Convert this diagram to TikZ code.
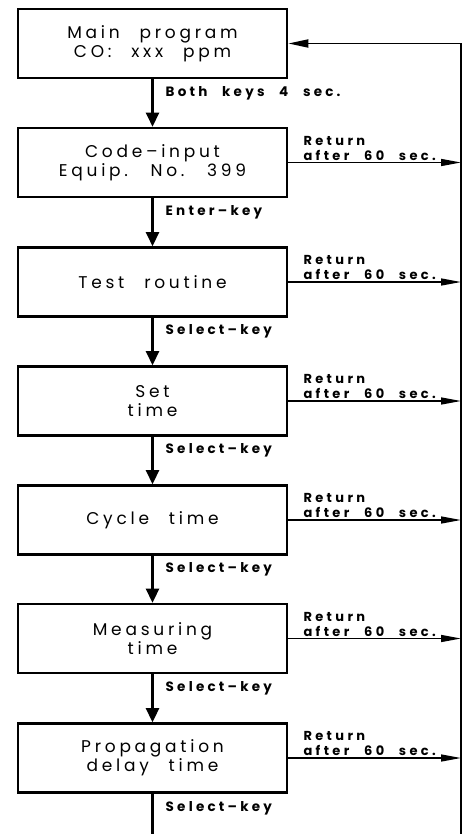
\documentclass[tikz,border=0pt]{standalone}
\usepackage{fontspec}
\setmainfont{Poppins}[LetterSpace=22, WordSpace=2.4]
\usetikzlibrary{arrows.meta}
\tikzset{
  stagebox/.style={draw, line width=2.6pt, minimum width=269pt, minimum height=69pt,
    inner sep=0pt, align=center, font=\fontsize{17}{19}\selectfont},
  downarrow/.style={line width=2.6pt, -{Triangle[length=14pt,width=13pt]}},
  retarrow/.style={line width=1.4pt, -{Triangle[length=20pt,width=7pt]}},
  buswire/.style={line width=2.8pt},
  keylabel/.style={anchor=north west, inner sep=0pt, font=\fontsize{13.5}{15}\selectfont\bfseries\addfontfeatures{LetterSpace=24}},
  retlabel/.style={anchor=south west, inner sep=0pt, align=left, font=\fontsize{13}{15}\selectfont\bfseries\addfontfeatures{LetterSpace=26}}
}
\begin{document}
\begin{tikzpicture}[x=1pt,y=-1pt]
\useasboundingbox (0,0) rectangle (470,834);
\fill[white] (0,0) rectangle (470,834);
\node[stagebox] (b1) at (152.5,43.5) {Main program\\CO: xxx ppm};
\node[stagebox] (b2) at (152.5,162.5) {Code–input\\Equip. No. 399};
\node[stagebox] (b3) at (152.5,282) {Test routine};
\node[stagebox] (b4) at (152.5,401) {Set\\time};
\node[stagebox] (b5) at (152.5,520) {Cycle time};
\node[stagebox] (b6) at (152.5,638.5) {Measuring\\time};
\node[stagebox] (b7) at (152.5,758) {Propagation\\delay time};
\coordinate (bustop) at (461,43.5);
\coordinate (busbot) at (461,834);
\coordinate (downend) at (152.5,834);
% vertical flow
\draw[downarrow] (b1.south) -- (b2.north);
\draw[downarrow] (b2.south) -- (b3.north);
\draw[downarrow] (b3.south) -- (b4.north);
\draw[downarrow] (b4.south) -- (b5.north);
\draw[downarrow] (b5.south) -- (b6.north);
\draw[downarrow] (b6.south) -- (b7.north);
\draw[line width=2.6pt] (b7.south) -- (downend);
\node[keylabel] (k1) at ([xshift=13pt,yshift=-7pt]b1.south) {Both keys 4 sec.};
\node[keylabel] (k2) at ([xshift=13pt,yshift=-7pt]b2.south) {Enter–key};
\node[keylabel] (k3) at ([xshift=13pt,yshift=-7pt]b3.south) {Select–key};
\node[keylabel] (k4) at ([xshift=13pt,yshift=-7pt]b4.south) {Select–key};
\node[keylabel] (k5) at ([xshift=13pt,yshift=-7pt]b5.south) {Select–key};
\node[keylabel] (k6) at ([xshift=13pt,yshift=-7pt]b6.south) {Select–key};
\node[keylabel] (k7) at ([xshift=13pt,yshift=-7pt]b7.south) {Select–key};
% return bus
\draw[buswire] (busbot) -- (bustop);
\draw[line width=1.8pt, -{Triangle[length=20pt,width=8pt]}] (bustop) -- (b1.east);
\foreach \b in {b2,b3,b4,b5,b6,b7}{
  \draw[retarrow] (\b.east) -- (\b.east -| bustop);
  \node[retlabel] (r\b) at ([xshift=15pt,yshift=2pt]\b.east) {Return\\after 60 sec.};
}
\end{tikzpicture}
\end{document}
